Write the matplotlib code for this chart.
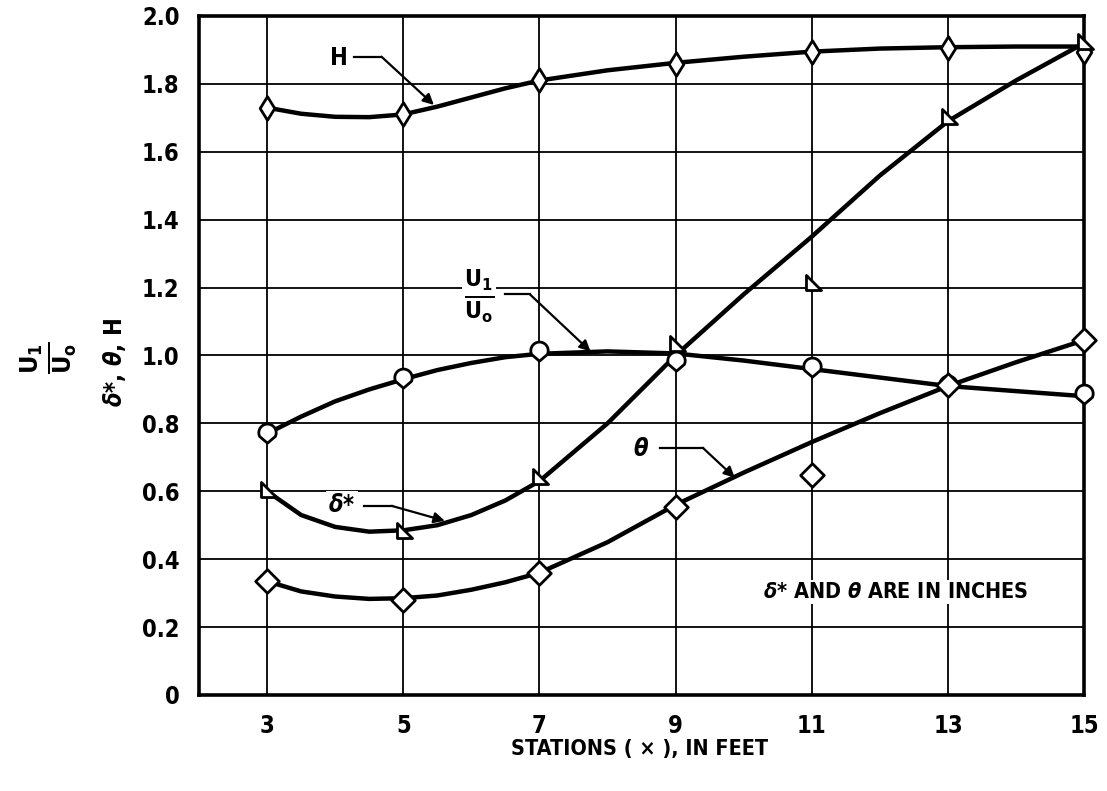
import numpy as np
import matplotlib
matplotlib.use('Agg')
from matplotlib import pyplot as plt
from matplotlib.path import Path

plt.rcParams['font.family'] = ['DejaVu Sans']
plt.rcParams['font.stretch'] = 'condensed'
plt.rcParams['font.weight'] = 'bold'
plt.rcParams['mathtext.fontset'] = 'custom'
plt.rcParams['mathtext.rm'] = 'DejaVu Sans:bold:stretch=condensed'
plt.rcParams['mathtext.it'] = 'DejaVu Sans:italic:stretch=condensed'

# measured stations, ft
stations = [3, 5, 7, 9, 11, 13, 15]

# data points
h_points = [1.73, 1.71, 1.81, 1.86, 1.895, 1.905, 1.895]
u_points = [0.77, 0.93, 1.01, 0.98, 0.963, 0.91, 0.884]
dstar_points = [0.60, 0.48, 0.64, 1.03, 1.21, 1.70, 1.92]
theta_points = [0.335, 0.28, 0.36, 0.555, 0.648, 0.913, 1.046]

# faired curves
curve_x = [3, 3.5, 4, 4.5, 5, 5.5, 6, 6.5, 7, 8, 9, 10, 11, 12, 13, 14, 15]
h_curve = [1.73, 1.712, 1.703, 1.702, 1.71, 1.733, 1.76, 1.787, 1.81, 1.84,
           1.862, 1.88, 1.895, 1.904, 1.908, 1.91, 1.91]
u_curve = [0.77, 0.82, 0.865, 0.90, 0.93, 0.957, 0.978, 0.995, 1.005, 1.012,
           1.006, 0.985, 0.96, 0.935, 0.91, 0.895, 0.88]
dstar_curve = [0.60, 0.53, 0.495, 0.481, 0.485, 0.50, 0.53, 0.573, 0.63, 0.80,
               1.00, 1.18, 1.35, 1.53, 1.69, 1.81, 1.92]
theta_curve = [0.335, 0.305, 0.29, 0.283, 0.285, 0.293, 0.31, 0.332, 0.36,
               0.45, 0.56, 0.655, 0.745, 0.83, 0.91, 0.98, 1.045]

y_ticks = [0, 0.2, 0.4, 0.6, 0.8, 1.0, 1.2, 1.4, 1.6, 1.8, 2.0]
y_labels = ['0', '0.2', '0.4', '0.6', '0.8', '1.0', '1.2', '1.4', '1.6', '1.8', '2.0']


def poly_marker(pts):
    pts = list(pts) + [pts[0]]
    codes = [Path.MOVETO] + [Path.LINETO] * (len(pts) - 2) + [Path.CLOSEPOLY]
    return Path(pts, codes)


thin_diamond = poly_marker([(0, 1), (0.62, 0), (0, -1), (-0.62, 0)])
diamond = poly_marker([(0, 1), (1, 0), (0, -1), (-1, 0)])
right_tri = poly_marker([(-0.6, 0.9), (0.9, -0.6), (-0.6, -0.6)])
ang = np.radians(np.linspace(-25, 205, 30))
teardrop = poly_marker([(np.cos(a), 0.2 + np.sin(a)) for a in ang] + [(0, -1.0)])

fig = plt.figure(figsize=(11.07, 7.91), dpi=100)
ax = fig.add_axes([0.1798, 0.1214, 0.7995, 0.8584])
ax.set_xlim(2, 15)
ax.set_ylim(0, 2.0)

ax.set_xticks(stations)
ax.set_yticks(y_ticks)
ax.set_yticklabels(y_labels)
ax.tick_params(length=0, labelsize=17, pad=14)
ax.grid(True, color='black', linewidth=1.3)
ax.set_axisbelow(True)
for s in ax.spines.values():
    s.set_linewidth(2.6)

curve_kw = dict(color='black', linewidth=3.2, zorder=3, solid_capstyle='round')
ax.plot(curve_x, h_curve, **curve_kw)
ax.plot(curve_x, u_curve, **curve_kw)
ax.plot(curve_x, dstar_curve, **curve_kw)
ax.plot(curve_x, theta_curve, **curve_kw)

mk_kw = dict(linestyle='none', markerfacecolor='white', markeredgecolor='black',
             markeredgewidth=2.0, zorder=4, clip_on=False)
ax.plot(stations, h_points, marker=thin_diamond, markersize=17, **mk_kw)
ax.plot(stations, u_points, marker=teardrop, markersize=15, **mk_kw)
ax.plot(stations, dstar_points, marker=right_tri, markersize=13, **mk_kw)
ax.plot(stations, theta_points, marker=diamond, markersize=17, **mk_kw)

# leader labels
box = dict(facecolor='white', edgecolor='none', pad=1.5)
leaders = [
    ('H', (4.06, 1.875), (4.27, 4.68, 1.88), (5.45, 1.738)),
    (r'$\delta$*', (4.1, 0.56), (4.42, 4.83, 0.557), (5.61, 0.513)),
    (r'$\theta$', (8.49, 0.725), (8.77, 9.4, 0.728), (9.87, 0.64)),
]
for txt, pos, (x0, x1, yl), tip in leaders:
    ax.text(pos[0], pos[1], txt, fontsize=17, ha='center', va='center',
            bbox=box, zorder=5)
    ax.plot([x0, x1], [yl, yl], color='black', linewidth=1.6, zorder=5)
    ax.annotate('', xy=tip, xytext=(x1, yl),
                arrowprops=dict(arrowstyle='-|>', color='black', lw=1.6,
                                shrinkA=0, shrinkB=0, mutation_scale=16),
                zorder=5)

ax.text(6.11, 1.175, r'$\frac{\mathregular{U_1}}{\mathregular{U_o}}$', fontsize=24,
        ha='center', va='center', bbox=box, zorder=5)
ax.plot([6.49, 6.86], [1.18, 1.18], color='black', linewidth=1.6, zorder=5)
ax.annotate('', xy=(7.75, 1.012), xytext=(6.86, 1.18),
            arrowprops=dict(arrowstyle='-|>', color='black', lw=1.6,
                            shrinkA=0, shrinkB=0, mutation_scale=16), zorder=5)

ax.text(12.23, 0.303, r'$\delta$* AND $\theta$ ARE IN INCHES', fontsize=15.5,
        ha='center', va='center', bbox=box, zorder=5)

fig.text(640 / 1107, 1 - 749 / 791, 'STATIONS ( × ), IN FEET', fontsize=15.5,
         ha='center', va='center')
fig.text(48 / 1107, 1 - 358 / 791, r'$\frac{\mathregular{U_1}}{\mathregular{U_o}}$',
         fontsize=26, rotation=90, ha='center', va='center')
fig.text(115 / 1107, 1 - 362 / 791, r'$\delta$*, $\theta$, H', fontsize=17,
         rotation=90, ha='center', va='center')

plt.savefig('out.png', dpi=100)
